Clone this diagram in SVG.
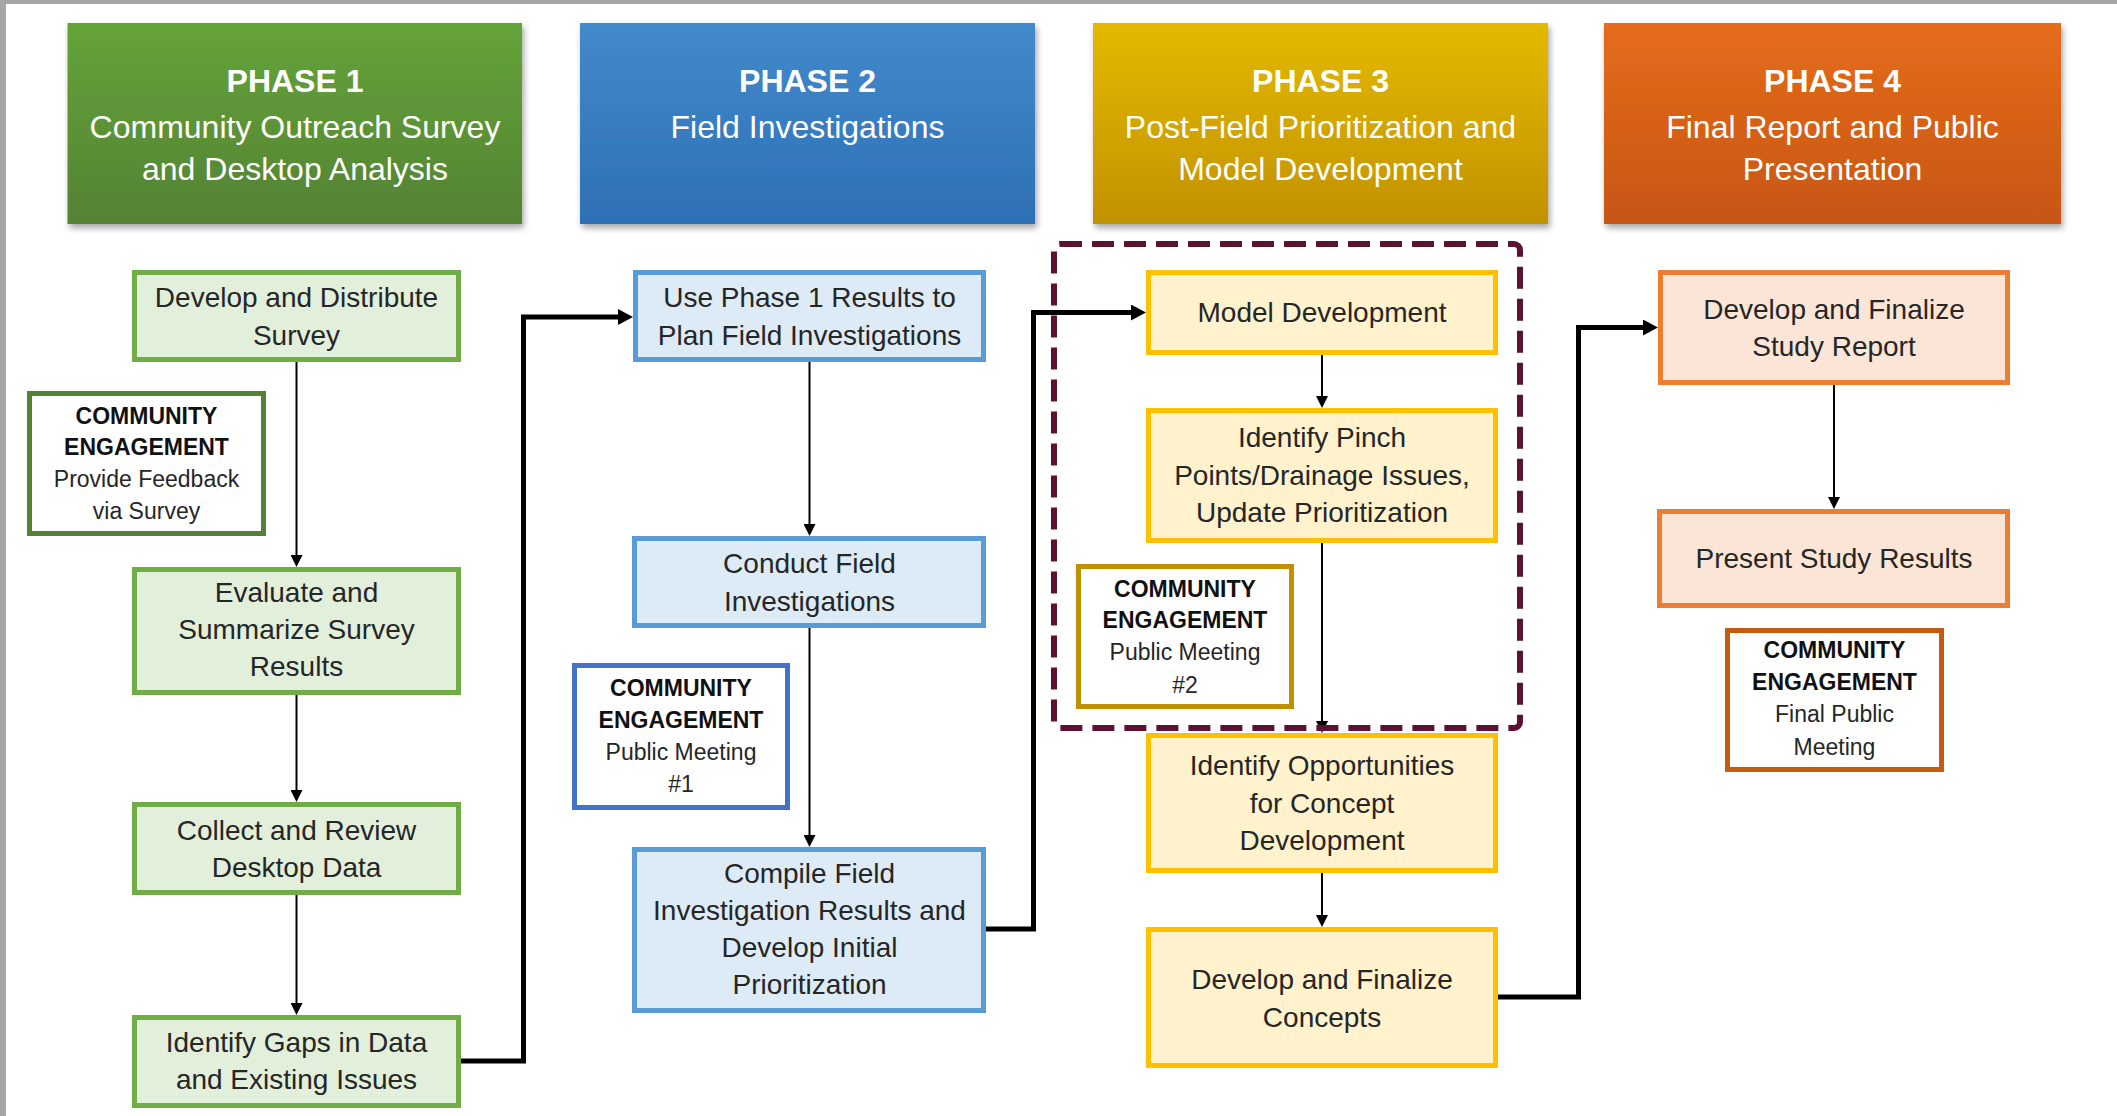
<svg xmlns="http://www.w3.org/2000/svg" width="2117" height="1116" viewBox="0 0 2117 1116">
<defs>
<style>
.hd{font-family:"Liberation Sans",Arial,sans-serif;fill:#ffffff;text-anchor:middle}
.hb{font-size:32px;font-weight:bold}
.hs{font-size:32px}
.t{font-family:"Liberation Sans",Arial,sans-serif;font-size:28px;fill:#262626;text-anchor:middle}
.c{font-family:"Liberation Sans",Arial,sans-serif;font-size:23px;fill:#262626;text-anchor:middle}
.cb{font-weight:bold;fill:#111111}
.g{fill:#e2efda;stroke:#70ad47;stroke-width:5}
.b{fill:#ddebf7;stroke:#5b9bd5;stroke-width:5}
.y{fill:#fff2cc;stroke:#ffc000;stroke-width:5}
.o{fill:#fbe5d6;stroke:#ed7d31;stroke-width:5}
.thin{fill:none;stroke:#000;stroke-width:2}
.thick{fill:none;stroke:#000;stroke-width:5;stroke-linejoin:miter}
</style>
<linearGradient id="g1" x1="0" y1="0" x2="0" y2="1"><stop offset="0" stop-color="#64a438"/><stop offset="1" stop-color="#548235"/></linearGradient>
<linearGradient id="g2" x1="0" y1="0" x2="0" y2="1"><stop offset="0" stop-color="#428acb"/><stop offset="1" stop-color="#2e70b5"/></linearGradient>
<linearGradient id="g3" x1="0" y1="0" x2="0" y2="1"><stop offset="0" stop-color="#e4b900"/><stop offset="1" stop-color="#c29200"/></linearGradient>
<linearGradient id="g4" x1="0" y1="0" x2="0" y2="1"><stop offset="0" stop-color="#e56c1b"/><stop offset="1" stop-color="#c75615"/></linearGradient>
<filter id="sh" x="-5%" y="-5%" width="112%" height="115%"><feDropShadow dx="2" dy="4" stdDeviation="3" flood-color="#000" flood-opacity="0.35"/></filter>
<marker id="as" markerUnits="userSpaceOnUse" markerWidth="12" markerHeight="12" refX="6" refY="6" orient="auto"><path d="M0,0 L12,6 L0,12 z" fill="#000"/></marker>
<marker id="al" markerUnits="userSpaceOnUse" markerWidth="16" markerHeight="16" refX="7" refY="8" orient="auto"><path d="M0,0 L15,8 L0,16 z" fill="#000"/></marker>
</defs>
<rect x="0" y="0" width="2117" height="1116" fill="#ffffff"/>
<rect x="0" y="0" width="2117" height="4" fill="#a6a6a6"/>
<rect x="0" y="0" width="6" height="1116" fill="#a6a6a6"/>

<g id="phase1-header">
<rect x="67.5" y="23" width="454.5" height="201" fill="url(#g1)" filter="url(#sh)"/>
<text class="hd hb" x="295" y="92">PHASE 1</text>
<text class="hd hs" x="295" y="138">Community Outreach Survey</text>
<text class="hd hs" x="295" y="180">and Desktop Analysis</text>
</g>
<g id="phase2-header">
<rect x="580" y="23" width="455" height="201" fill="url(#g2)" filter="url(#sh)"/>
<text class="hd hb" x="807.5" y="92">PHASE 2</text>
<text class="hd hs" x="807.5" y="138">Field Investigations</text>
</g>
<g id="phase3-header">
<rect x="1093" y="23" width="455" height="201" fill="url(#g3)" filter="url(#sh)"/>
<text class="hd hb" x="1320.5" y="92">PHASE 3</text>
<text class="hd hs" x="1320.5" y="138">Post-Field Prioritization and</text>
<text class="hd hs" x="1320.5" y="180">Model Development</text>
</g>
<g id="phase4-header">
<rect x="1604" y="23" width="457" height="201" fill="url(#g4)" filter="url(#sh)"/>
<text class="hd hb" x="1832.5" y="92">PHASE 4</text>
<text class="hd hs" x="1832.5" y="138">Final Report and Public</text>
<text class="hd hs" x="1832.5" y="180">Presentation</text>
</g>

<g id="connectors">
<path class="thin" d="M296.5,362 V561" marker-end="url(#as)"/>
<path class="thin" d="M296.5,695 V796" marker-end="url(#as)"/>
<path class="thin" d="M296.5,895 V1009" marker-end="url(#as)"/>
<path class="thin" d="M809.5,362 V530" marker-end="url(#as)"/>
<path class="thin" d="M809.5,628 V841" marker-end="url(#as)"/>
<path class="thin" d="M1322,355 V402" marker-end="url(#as)"/>
<path class="thin" d="M1322,543 V727" marker-end="url(#as)"/>
<path class="thin" d="M1322,873 V921" marker-end="url(#as)"/>
<path class="thin" d="M1834,385 V503" marker-end="url(#as)"/>
<path class="thick" d="M461,1061 H523.5 V317 H625" marker-end="url(#al)"/>
<path class="thick" d="M986,929 H1033.5 V312.5 H1138" marker-end="url(#al)"/>
<path class="thick" d="M1498,997 H1578.5 V327.5 H1650" marker-end="url(#al)"/>
</g>

<g id="p1-develop-survey">
<rect class="g" x="134.5" y="272.5" width="324" height="87"/>
<text class="t" x="296.5" y="307">Develop and Distribute</text>
<text class="t" x="296.5" y="345">Survey</text>
</g>
<g id="p1-community-engagement">
<rect x="29.5" y="393.5" width="234" height="140" fill="#ffffff" stroke="#548235" stroke-width="5"/>
<text class="c cb" x="146.5" y="424">COMMUNITY</text>
<text class="c cb" x="146.5" y="455">ENGAGEMENT</text>
<text class="c" x="146.5" y="487">Provide Feedback</text>
<text class="c" x="146.5" y="519">via Survey</text>
</g>
<g id="p1-evaluate">
<rect class="g" x="134.5" y="569.5" width="324" height="123"/>
<text class="t" x="296.5" y="602">Evaluate and</text>
<text class="t" x="296.5" y="639">Summarize Survey</text>
<text class="t" x="296.5" y="676">Results</text>
</g>
<g id="p1-collect">
<rect class="g" x="134.5" y="804.5" width="324" height="88"/>
<text class="t" x="296.5" y="840">Collect and Review</text>
<text class="t" x="296.5" y="877">Desktop Data</text>
</g>
<g id="p1-gaps">
<rect class="g" x="134.5" y="1017.5" width="324" height="88"/>
<text class="t" x="296.5" y="1052">Identify Gaps in Data</text>
<text class="t" x="296.5" y="1089">and Existing Issues</text>
</g>

<g id="p2-plan">
<rect class="b" x="635.5" y="272.5" width="348" height="87"/>
<text class="t" x="809.5" y="307">Use Phase 1 Results to</text>
<text class="t" x="809.5" y="345">Plan Field Investigations</text>
</g>
<g id="p2-conduct">
<rect class="b" x="634.5" y="538.5" width="349" height="87"/>
<text class="t" x="809.5" y="573">Conduct Field</text>
<text class="t" x="809.5" y="611">Investigations</text>
</g>
<g id="p2-community-engagement">
<rect x="574.5" y="665.5" width="213" height="142" fill="#ffffff" stroke="#4472c4" stroke-width="5"/>
<text class="c cb" x="681" y="696">COMMUNITY</text>
<text class="c cb" x="681" y="728">ENGAGEMENT</text>
<text class="c" x="681" y="760">Public Meeting</text>
<text class="c" x="681" y="792">#1</text>
</g>
<g id="p2-compile">
<rect class="b" x="634.5" y="849.5" width="349" height="161"/>
<text class="t" x="809.5" y="883">Compile Field</text>
<text class="t" x="809.5" y="920">Investigation Results and</text>
<text class="t" x="809.5" y="957">Develop Initial</text>
<text class="t" x="809.5" y="994">Prioritization</text>
</g>

<g id="p3-model">
<rect class="y" x="1148.5" y="272.5" width="347" height="80"/>
<text class="t" x="1322" y="322">Model Development</text>
</g>
<g id="p3-pinch">
<rect class="y" x="1148.5" y="410.5" width="347" height="130"/>
<text class="t" x="1322" y="447">Identify Pinch</text>
<text class="t" x="1322" y="485">Points/Drainage Issues,</text>
<text class="t" x="1322" y="522">Update Prioritization</text>
</g>
<g id="p3-community-engagement">
<rect x="1078.5" y="566.5" width="213" height="140" fill="#ffffff" stroke="#bf9000" stroke-width="5"/>
<text class="c cb" x="1185" y="597">COMMUNITY</text>
<text class="c cb" x="1185" y="628">ENGAGEMENT</text>
<text class="c" x="1185" y="660">Public Meeting</text>
<text class="c" x="1185" y="693">#2</text>
</g>
<g id="p3-opportunities">
<rect class="y" x="1148.5" y="735.5" width="347" height="135"/>
<text class="t" x="1322" y="775">Identify Opportunities</text>
<text class="t" x="1322" y="813">for Concept</text>
<text class="t" x="1322" y="850">Development</text>
</g>
<g id="p3-concepts">
<rect class="y" x="1148.5" y="929.5" width="347" height="136"/>
<text class="t" x="1322" y="989">Develop and Finalize</text>
<text class="t" x="1322" y="1027">Concepts</text>
</g>
<g id="p3-dashed-group">
<rect x="1054" y="244" width="466" height="484" rx="6" fill="none" stroke="#5d1133" stroke-width="6" stroke-dasharray="22 10"/>
</g>

<g id="p4-report">
<rect class="o" x="1660.5" y="272.5" width="347" height="110"/>
<text class="t" x="1834" y="319">Develop and Finalize</text>
<text class="t" x="1834" y="356">Study Report</text>
</g>
<g id="p4-present">
<rect class="o" x="1659.5" y="511.5" width="348" height="94"/>
<text class="t" x="1834" y="568">Present Study Results</text>
</g>
<g id="p4-community-engagement">
<rect x="1727.5" y="630.5" width="214" height="139" fill="#ffffff" stroke="#c55a11" stroke-width="5"/>
<text class="c cb" x="1834.5" y="658">COMMUNITY</text>
<text class="c cb" x="1834.5" y="690">ENGAGEMENT</text>
<text class="c" x="1834.5" y="722">Final Public</text>
<text class="c" x="1834.5" y="755">Meeting</text>
</g>
</svg>
